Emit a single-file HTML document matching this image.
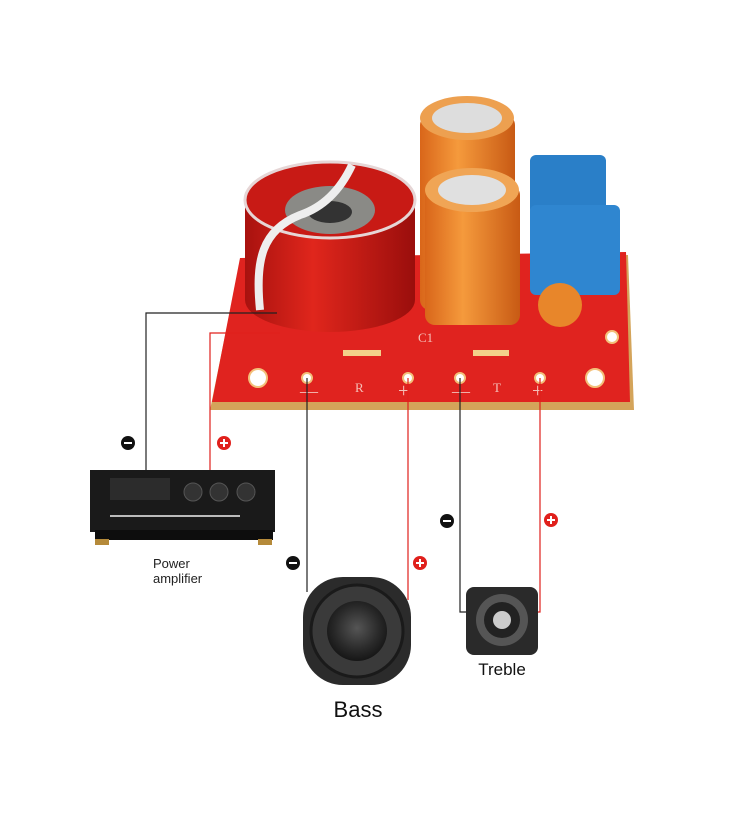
<!DOCTYPE html>
<html><head><meta charset="utf-8"><style>
body{margin:0;width:750px;height:838px;background:#fff;overflow:hidden;font-family:"Liberation Sans",sans-serif;}
svg{position:absolute;left:0;top:0}
</style></head><body>
<svg width="750" height="838" viewBox="0 0 750 838">
<defs>
<radialGradient id="org" cx="0.4" cy="0.4" r="0.7"><stop offset="0" stop-color="#f7a24a"/><stop offset="1" stop-color="#d9661a"/></radialGradient>
<linearGradient id="orgs" x1="0" x2="1"><stop offset="0" stop-color="#d9661a"/><stop offset="0.4" stop-color="#f59a3c"/><stop offset="1" stop-color="#c85a14"/></linearGradient>
<linearGradient id="coil" x1="0" x2="1"><stop offset="0" stop-color="#a8120f"/><stop offset="0.4" stop-color="#e0261c"/><stop offset="1" stop-color="#9a0e0c"/></linearGradient>
<radialGradient id="spk" cx="0.5" cy="0.45" r="0.6"><stop offset="0" stop-color="#555"/><stop offset="0.6" stop-color="#2a2a2a"/><stop offset="1" stop-color="#111"/></radialGradient>
</defs>
<!-- board -->
<polygon points="240,262 628,255 634,410 210,410" fill="#d4a45a"/>
<polygon points="240,258 626,252 630,402 212,402" fill="#e0231f"/>
<!-- holes -->
<g fill="#fff" stroke="#f3c07a" stroke-width="2">
<circle cx="258" cy="378" r="9"/><circle cx="595" cy="378" r="9"/><circle cx="612" cy="337" r="6"/>
<circle cx="307" cy="378" r="5"/><circle cx="408" cy="378" r="5"/><circle cx="460" cy="378" r="5"/><circle cx="540" cy="378" r="5"/>
<circle cx="270" cy="313" r="5"/>
</g>
<rect x="343" y="350" width="38" height="6" fill="#f3d08a"/>
<rect x="473" y="350" width="36" height="6" fill="#f3d08a"/>
<g fill="#f5c0b8" font-family="Liberation Serif" font-size="13">
<text x="355" y="392">R</text><text x="493" y="392">T</text><text x="418" y="342">C1</text>
<text x="300" y="397" font-size="18">—</text><text x="398" y="397" font-size="20">+</text><text x="452" y="397" font-size="18">—</text><text x="532" y="397" font-size="20">+</text>
</g>
<!-- coil -->
<path d="M245,200 L245,300 A85,32 0 0 0 415,300 L415,200 Z" fill="url(#coil)"/>
<ellipse cx="330" cy="200" rx="85" ry="38" fill="#c81a15" stroke="#e6d6d6" stroke-width="3"/>
<ellipse cx="330" cy="210" rx="45" ry="24" fill="#8a8a86"/>
<ellipse cx="330" cy="212" rx="22" ry="11" fill="#333"/>
<path d="M260,310 C255,260 262,230 300,215 C330,205 345,180 352,165" stroke="#eee" stroke-width="8" fill="none"/>
<!-- caps -->
<rect x="420" y="115" width="95" height="195" rx="10" fill="url(#orgs)"/>
<ellipse cx="467" cy="118" rx="47" ry="22" fill="#eda050"/>
<ellipse cx="467" cy="118" rx="35" ry="15" fill="#ddd"/>
<rect x="425" y="185" width="95" height="140" rx="10" fill="url(#orgs)"/>
<ellipse cx="472" cy="190" rx="47" ry="22" fill="#f0a555"/>
<ellipse cx="472" cy="190" rx="34" ry="15" fill="#e0e0e0"/>
<rect x="530" y="155" width="76" height="60" rx="6" fill="#2a7fc8"/>
<rect x="530" y="205" width="90" height="90" rx="6" fill="#2f86d0"/>
<ellipse cx="560" cy="305" rx="22" ry="22" fill="#e8862a"/>
<!-- wires -->
<g fill="none" stroke-width="1.2">
<polyline points="146,470 146,313 277,313" stroke="#222"/>
<polyline points="210,470 210,333 280,333" stroke="#e0201c"/>
<line x1="307" y1="378" x2="307" y2="592" stroke="#222"/>
<line x1="408" y1="378" x2="408" y2="600" stroke="#e0201c"/>
<polyline points="460,378 460,612 470,612" stroke="#222"/>
<polyline points="540,378 540,612 532,612" stroke="#e0201c"/>
</g>
<g font-family="Liberation Sans" font-weight="bold" font-size="13" fill="#fff" text-anchor="middle">
<circle cx="128" cy="443" r="7" fill="#111"/><rect x="124" y="442" width="8" height="2"/>
<circle cx="224" cy="443" r="7" fill="#e0201c"/><rect x="220" y="442" width="8" height="2"/><rect x="223" y="439" width="2" height="8"/>
<circle cx="293" cy="563" r="7" fill="#111"/><rect x="289" y="562" width="8" height="2"/>
<circle cx="420" cy="563" r="7" fill="#e0201c"/><rect x="416" y="562" width="8" height="2"/><rect x="419" y="559" width="2" height="8"/>
<circle cx="447" cy="521" r="7" fill="#111"/><rect x="443" y="520" width="8" height="2"/>
<circle cx="551" cy="520" r="7" fill="#e0201c"/><rect x="547" y="519" width="8" height="2"/><rect x="550" y="516" width="2" height="8"/>
</g>
<!-- amplifier -->
<rect x="90" y="470" width="185" height="62" fill="#1a1a1a"/>
<rect x="95" y="530" width="178" height="10" fill="#0d0d0d"/>
<rect x="95" y="539" width="14" height="6" fill="#b58a3a"/><rect x="258" y="539" width="14" height="6" fill="#b58a3a"/>
<rect x="110" y="478" width="60" height="22" fill="#2c2c2c"/>
<circle cx="193" cy="492" r="9" fill="#333" stroke="#555"/><circle cx="219" cy="492" r="9" fill="#333" stroke="#555"/><circle cx="246" cy="492" r="9" fill="#333" stroke="#555"/>
<g fill="#bbb"><rect x="110" y="515" width="130" height="2"/></g>
<text x="153" y="568" font-size="13" fill="#222">Power</text>
<text x="153" y="583" font-size="13" fill="#222">amplifier</text>
<!-- bass -->
<rect x="303" y="577" width="108" height="108" rx="40" fill="#2b2b2b"/>
<circle cx="357" cy="631" r="46" fill="#3a3a3a" stroke="#1a1a1a" stroke-width="3"/>
<circle cx="357" cy="631" r="30" fill="url(#spk)"/>
<text x="358" y="717" font-size="22" fill="#111" text-anchor="middle">Bass</text>
<!-- treble -->
<rect x="466" y="587" width="72" height="68" rx="8" fill="#2a2a2a"/>
<circle cx="502" cy="620" r="26" fill="#555"/>
<circle cx="502" cy="620" r="18" fill="#222"/>
<circle cx="502" cy="620" r="9" fill="#ccc"/>
<text x="502" y="675" font-size="17" fill="#111" text-anchor="middle">Treble</text>
</svg>
</body></html>
